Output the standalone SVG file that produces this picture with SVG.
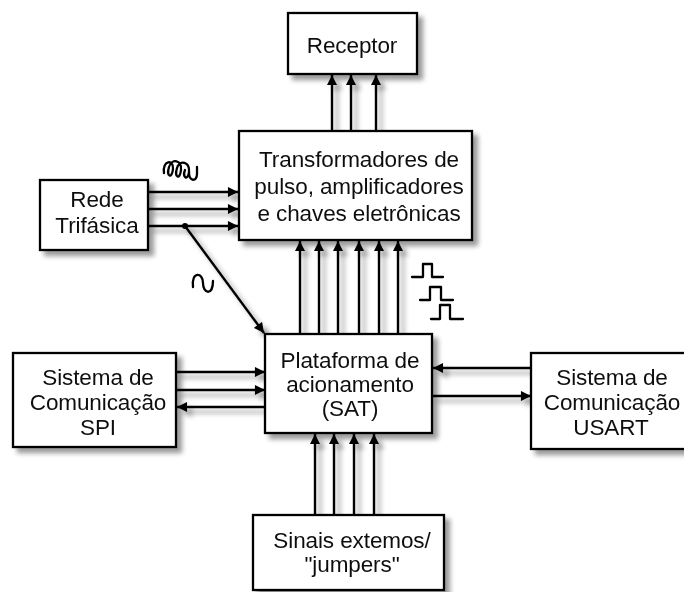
<svg xmlns="http://www.w3.org/2000/svg" width="684" height="592" viewBox="0 0 684 592">
  <defs>
    <filter id="shadow" x="-20%" y="-20%" width="140%" height="140%">
      <feGaussianBlur in="SourceAlpha" stdDeviation="2.4"/>
      <feOffset dx="5" dy="5" result="b"/>
      <feComponentTransfer><feFuncA type="linear" slope="0.4"/></feComponentTransfer>
      <feMerge><feMergeNode/><feMergeNode in="SourceGraphic"/></feMerge>
    </filter>
    <marker id="ah" viewBox="0 0 10 10" refX="10" refY="5" markerWidth="4.6" markerHeight="4.2" orient="auto" markerUnits="strokeWidth">
      <path d="M0,0 L10,5 L0,10 z" fill="#000"/>
    </marker>
    <style>
      .box { fill: #fff; stroke: #000; stroke-width: 2.3; }
      .lbl { font-family: "Liberation Sans", Arial, sans-serif; font-size: 22.5px; fill: #111; text-anchor: middle; letter-spacing: -0.1px; }
      .ar { stroke: #000; stroke-width: 2.4; fill: none; marker-end: url(#ah); }
      .sym { stroke: #000; stroke-width: 2.3; fill: none; stroke-linejoin: round; stroke-linecap: round; }
    </style>
  </defs>

  <rect width="684" height="592" fill="#fff"/>

  <!-- connectors -->
  <g id="connectors" filter="url(#shadow)">
    <!-- to Receptor -->
    <line class="ar" x1="332" y1="131" x2="332" y2="75"/>
    <line class="ar" x1="351" y1="131" x2="351" y2="75"/>
    <line class="ar" x1="376" y1="131" x2="376" y2="75"/>
    <!-- Rede Trifasica to transformers -->
    <line class="ar" x1="148" y1="192" x2="238" y2="192"/>
    <line class="ar" x1="148" y1="209" x2="238" y2="209"/>
    <line class="ar" x1="148" y1="226" x2="238" y2="226"/>
    <circle cx="185" cy="226" r="3" fill="#000"/>
    <line class="ar" x1="185" y1="226" x2="264" y2="333"/>
    <!-- platform to transformers -->
    <line class="ar" x1="300" y1="334" x2="300" y2="241"/>
    <line class="ar" x1="319" y1="334" x2="319" y2="241"/>
    <line class="ar" x1="338" y1="334" x2="338" y2="241"/>
    <line class="ar" x1="359" y1="334" x2="359" y2="241"/>
    <line class="ar" x1="379" y1="334" x2="379" y2="241"/>
    <line class="ar" x1="398" y1="334" x2="398" y2="241"/>
    <!-- SPI -->
    <line class="ar" x1="176" y1="372" x2="265" y2="372"/>
    <line class="ar" x1="176" y1="390" x2="265" y2="390"/>
    <line class="ar" x1="265" y1="407" x2="177" y2="407"/>
    <!-- USART -->
    <line class="ar" x1="531" y1="368" x2="433" y2="368"/>
    <line class="ar" x1="432" y1="396" x2="531" y2="396"/>
    <!-- external signals -->
    <line class="ar" x1="315" y1="515" x2="315" y2="434"/>
    <line class="ar" x1="334" y1="515" x2="334" y2="434"/>
    <line class="ar" x1="354" y1="515" x2="354" y2="434"/>
    <line class="ar" x1="374" y1="515" x2="374" y2="434"/>
  </g>

  <!-- signal symbols -->
  <g id="symbols">
    <path class="sym" d="M164,173 C162,160 174,159 173,169 C172,179 166,177 169,167 C172,158 182,160 181,170 C180,180 174,178 177,168 C180,159 190,162 189,172 C188,181 182,178 185,170 M189,172 C189,182 197,182 197,174 L197,167"/>
    <path class="sym" d="M193,287 C191,271 203,272 203,283 C203,294 213,296 213,281"/>
    <path class="sym" d="M412,277 H423 V264 H432 V277 H443"/>
    <path class="sym" d="M420,300 H430 V287 H441 V300 H453"/>
    <path class="sym" d="M431,319 H440 V305 H450 V319 H463"/>
  </g>

  <g id="receptor" filter="url(#shadow)">
    <rect class="box" x="288" y="13" width="129" height="61"/>
    <text class="lbl" x="352" y="53">Receptor</text>
  </g>

  <g id="transformadores" filter="url(#shadow)">
    <rect class="box" x="239" y="131" width="233" height="109"/>
    <text class="lbl" x="359" y="167">Transformadores de</text>
    <text class="lbl" x="359" y="194">pulso, amplificadores</text>
    <text class="lbl" x="359" y="221">e chaves eletrônicas</text>
  </g>

  <g id="rede" filter="url(#shadow)">
    <rect class="box" x="40" y="180" width="108" height="70"/>
    <text class="lbl" x="97" y="207">Rede</text>
    <text class="lbl" x="97" y="233">Trifásica</text>
  </g>

  <g id="plataforma" filter="url(#shadow)">
    <rect class="box" x="265" y="334" width="167" height="99"/>
    <text class="lbl" x="350" y="368">Plataforma de</text>
    <text class="lbl" x="350" y="392">acionamento</text>
    <text class="lbl" x="350" y="416">(SAT)</text>
  </g>

  <g id="spi" filter="url(#shadow)">
    <rect class="box" x="13" y="353" width="163" height="94"/>
    <text class="lbl" x="98" y="385">Sistema de</text>
    <text class="lbl" x="98" y="410">Comunicação</text>
    <text class="lbl" x="98" y="435">SPI</text>
  </g>

  <g id="usart" filter="url(#shadow)">
    <rect class="box" x="531" y="353" width="160" height="96"/>
    <text class="lbl" x="612" y="385">Sistema de</text>
    <text class="lbl" x="612" y="410">Comunicação</text>
    <text class="lbl" x="611" y="435">USART</text>
  </g>

  <g id="sinais" filter="url(#shadow)">
    <rect class="box" x="253" y="515" width="191" height="75"/>
    <text class="lbl" x="352" y="548">Sinais extemos/</text>
    <text class="lbl" x="352" y="572">"jumpers"</text>
  </g>
</svg>
